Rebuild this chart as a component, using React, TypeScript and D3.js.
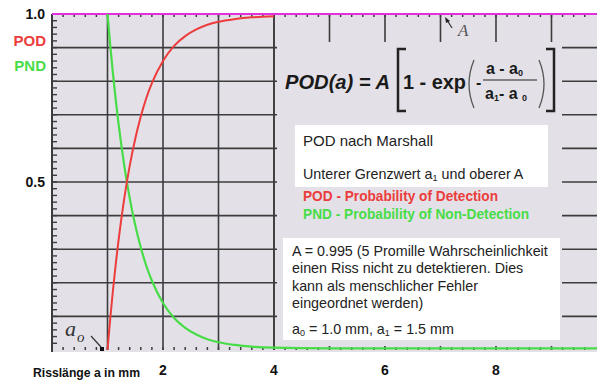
import * as d3 from "d3";

// crack length a in mm
const aValues = [1.0, 1.05, 1.1, 1.15, 1.2, 1.3, 1.4, 1.5, 1.6, 1.7, 1.8, 2.0, 2.2, 2.4, 2.6, 2.8, 3.0, 3.3, 3.6, 4.0, 5.0, 9.82];
const podValues = [0, 0.095, 0.18, 0.258, 0.328, 0.449, 0.548, 0.629, 0.695, 0.75, 0.794, 0.86, 0.905, 0.934, 0.954, 0.968, 0.977, 0.985, 0.99, 0.993, 0.995, 0.995];
const pndValues = [1.0, 0.905, 0.82, 0.742, 0.672, 0.551, 0.452, 0.371, 0.305, 0.25, 0.206, 0.14, 0.095, 0.066, 0.046, 0.032, 0.023, 0.015, 0.01, 0.007, 0.005, 0.005];

const xTickValues = [2, 4, 6, 8];
const yLabelValues = [1.0, 0.5];
const yLabelTexts = ["1.0", "0.5"];
const podMaxA = 4.0;

const W = 597, H = 383;
const BG = "#e3e1e7";
const GRID = "#3c3c3c";
const RED = "#ec3c3c";
const GREEN = "#48dc48";
const SANS = "'Liberation Sans', Arial, sans-serif";
const SERIF = "'Liberation Serif', 'Times New Roman', serif";

export default function App() {
  const x = d3.scaleLinear().domain([0, 9.82]).range([52, 597]);
  const y = d3.scaleLinear().domain([0, 1]).range([350, 14]);

  const line = d3
    .line<[number, number]>()
    .x((d) => x(d[0]))
    .y((d) => y(d[1]))
    .curve(d3.curveMonotoneX);

  const podPts = aValues.map((a, i) => [a, podValues[i]] as [number, number]).filter((d) => d[0] <= podMaxA);
  const pndPts = aValues.map((a, i) => [a, pndValues[i]] as [number, number]);

  const vGrid = d3.range(1, 10);
  const hGrid = d3.range(1, 10).map((i) => i / 10);
  const xMinor = d3.range(0, 49).map((i) => i * 0.2);
  const yMinor = d3.range(1, 50).map((i) => i * 0.02);

  // the formula panel hides the grid on the right
  const panel = { x0: 277, x1: 562, y0: 42, y1: 346 };

  return (
    <svg width={W} height={H} style={{ position: "absolute", left: 0, top: 0, background: "#fff" }}>
      <rect x={x(0)} y={y(1)} width={W - x(0)} height={y(0) - y(1) + 2} fill={BG} />

      {/* grid */}
      {hGrid.map((v) => (
        <line key={"h" + v} x1={x(0)} x2={W} y1={y(v)} y2={y(v)} stroke={GRID} strokeWidth={1.6} />
      ))}
      {vGrid.map((v) => (
        <line key={"v" + v} x1={x(v)} x2={x(v)} y1={y(1)} y2={y(0)} stroke={GRID} strokeWidth={1.6} />
      ))}
      <rect x={panel.x0} y={panel.y0} width={panel.x1 - panel.x0} height={panel.y1 - panel.y0} fill={BG} />
      <line x1={x(4)} x2={x(4)} y1={y(1)} y2={y(0)} stroke={GRID} strokeWidth={1.6} />

      {/* minor ticks */}
      {xMinor.map((v) => (
        <g key={"xm" + v}>
          <line x1={x(v)} x2={x(v)} y1={y(0)} y2={y(0) - 3} stroke={GRID} strokeWidth={1.5} />
          <line x1={x(v)} x2={x(v)} y1={y(1)} y2={y(1) + 3} stroke={GRID} strokeWidth={1.5} />
        </g>
      ))}
      {yMinor.map((v) => (
        <line key={"ym" + v} x1={x(0)} x2={x(0) + 5} y1={y(v)} y2={y(v)} stroke={GRID} strokeWidth={1.4} />
      ))}
      <line x1={x(0)} x2={x(0)} y1={y(1)} y2={y(0) + 2} stroke={GRID} strokeWidth={2} />
      <line x1={x(0)} x2={W} y1={y(1)} y2={y(1)} stroke="#e030e0" strokeWidth={2.2} />

      {/* curves */}
      <path d={line(pndPts) ?? ""} fill="none" stroke={GREEN} strokeWidth={2.2} />
      <path d={line(podPts) ?? ""} fill="none" stroke={RED} strokeWidth={2} />

      {/* axis labels */}
      {yLabelValues.map((v, i) => (
        <text key={"yl" + v} x={45} y={y(v) + 5} textAnchor="end" fontFamily={SANS} fontWeight="bold" fontSize={14} fill="#111">
          {yLabelTexts[i]}
        </text>
      ))}
      <text x={46} y={46} textAnchor="end" fontFamily={SANS} fontWeight="bold" fontSize={15} fill={RED}>POD</text>
      <text x={46} y={71} textAnchor="end" fontFamily={SANS} fontWeight="bold" fontSize={15} fill={GREEN}>PND</text>
      {xTickValues.map((v) => (
        <text key={"xl" + v} x={x(v)} y={375} textAnchor="middle" fontFamily={SANS} fontWeight="bold" fontSize={14} fill="#111">
          {v}
        </text>
      ))}
      <text x={33} y={377} fontFamily={SANS} fontWeight="bold" fontSize={12} textLength={107} lengthAdjust="spacingAndGlyphs" fill="#111">Risslänge a in mm</text>

      {/* a0 annotation */}
      <text x={65} y={336} fontFamily={SERIF} fontStyle="italic" fontSize={22} fill="#333">a</text>
      <text x={77} y={342} fontFamily={SERIF} fontStyle="italic" fontSize={15} fill="#333">o</text>
      <line x1={91} y1={336} x2={101} y2={347} stroke="#333" strokeWidth={1.2} />
      <rect x={100} y={347} width={4} height={4} fill="#111" />

      {/* A annotation */}
      <line x1={452} y1={28} x2={447} y2={20} stroke="#333" strokeWidth={1.2} />
      <path d="M445,17 L450,21 L446,23 Z" fill="#222" />
      <text x={458} y={36} fontFamily={SERIF} fontStyle="italic" fontSize={17} fill="#555">A</text>

      {/* formula */}
      <text x={285} y={89} fontFamily={SANS} fontWeight="bold" fontStyle="italic" fontSize={20} textLength={105} lengthAdjust="spacingAndGlyphs" fill="#1a1a1a">POD(a) = A</text>
      <path d="M406,49 L398,49 L398,111 L406,111" fill="none" stroke="#222" strokeWidth={2.5} />
      <text x={403} y={89} fontFamily={SANS} fontWeight="bold" fontSize={20} textLength={63} lengthAdjust="spacingAndGlyphs" fill="#1a1a1a">1 - exp</text>
      <path d="M474,60 Q464,84 474,108" fill="none" stroke="#555" strokeWidth={1.3} />
      <text x={476} y={88} fontFamily={SANS} fontWeight="bold" fontSize={16} fill="#1a1a1a">-</text>
      <text x={486} y={74} fontFamily={SANS} fontWeight="bold" fontSize={16} fill="#1a1a1a">
        a - a<tspan fontSize={9} dy={2}>0</tspan>
      </text>
      <line x1={483} x2={537} y1={80} y2={80} stroke="#222" strokeWidth={1.2} />
      <text x={485} y={99} fontFamily={SANS} fontWeight="bold" fontSize={16} fill="#1a1a1a">
        a<tspan fontSize={9} dy={2}>1</tspan><tspan dy={-2}>- a </tspan><tspan fontSize={9} dy={2}>0</tspan>
      </text>
      <path d="M539,60 Q549,84 539,108" fill="none" stroke="#555" strokeWidth={1.3} />
      <path d="M546,49 L554,49 L554,111 L546,111" fill="none" stroke="#222" strokeWidth={2.5} />

      {/* upper info box */}
      <rect x={295} y={125} width={253} height={62} fill="#fff" />
      <text x={303} y={146} fontFamily={SANS} fontSize={15} fill="#222">POD nach Marshall</text>
      <text x={303} y={179} fontFamily={SANS} fontSize={14.3} fill="#222">
        Unterer Grenzwert a<tspan fontSize={9} dy={2}>1</tspan><tspan dy={-2}> und oberer A</tspan>
      </text>
      <text x={303} y={201} fontFamily={SANS} fontWeight="bold" fontSize={14} textLength={195} lengthAdjust="spacingAndGlyphs" fill={RED}>POD - Probability of Detection</text>
      <text x={303} y={219} fontFamily={SANS} fontWeight="bold" fontSize={14} textLength={226} lengthAdjust="spacingAndGlyphs" fill={GREEN}>PND - Probability of Non-Detection</text>

      {/* lower info box */}
      <rect x={283} y={238} width={277} height={102} fill="#fff" />
      {[
        "A = 0.995 (5 Promille Wahrscheinlichkeit",
        "einen Riss nicht zu detektieren. Dies",
        "kann als menschlicher Fehler",
        "eingeordnet werden)",
      ].map((t, i) => (
        <text key={t} x={292} y={256 + i * 17.3} fontFamily={SANS} fontSize={14.3} fill="#222">{t}</text>
      ))}
      <text x={292} y={334} fontFamily={SANS} fontSize={14.3} fill="#222">
        a<tspan fontSize={9} dy={2}>0</tspan><tspan dy={-2}> = 1.0 mm, a</tspan><tspan fontSize={9} dy={2}>1</tspan><tspan dy={-2}> = 1.5 mm</tspan>
      </text>
    </svg>
  );
}
